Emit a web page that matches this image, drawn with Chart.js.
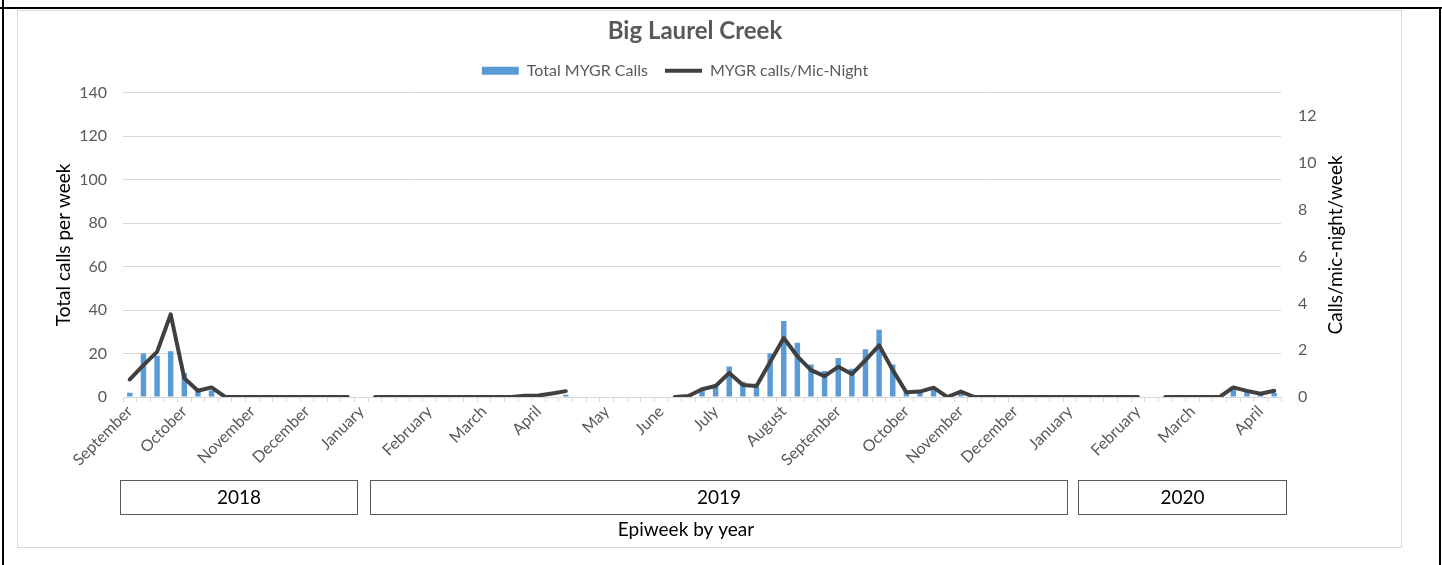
<!DOCTYPE html>
<html><head><meta charset="utf-8">
<script src="https://cdn.jsdelivr.net/npm/chart.js@4/dist/chart.umd.min.js"></script>
<style>
html,body{margin:0;padding:0;background:#fff;}
body{width:1442px;height:565px;position:relative;overflow:hidden;font-family:Lato,sans-serif;}
#frameTop{position:absolute;left:0;top:7px;width:1442px;height:2px;background:#000;}
#frameLeft{position:absolute;left:2px;top:0;width:2px;height:565px;background:#000;}
#frameRight{position:absolute;left:1439px;top:8px;width:2px;height:557px;background:#000;}
#chartBorder{position:absolute;left:17px;top:10px;width:1383px;height:536px;border:1px solid #d9d9d9;}
#wrap{position:absolute;left:0;top:0;width:1390px;height:565px;}
</style></head>
<body>
<div id="frameTop"></div><div id="frameLeft"></div><div id="frameRight"></div>
<div id="chartBorder"></div>
<div id="wrap"><canvas id="c" width="1390" height="565"></canvas></div>
<script>
// ---- data ----
const weekCount = 85; // epiweeks Sept 2018 .. Apr 2020
const monthTickIndex = [0,4,9,13,17,22,26,30,35,39,43,48,52,57,61,65,69,74,78,83];
const monthTickLabel = ['September','October','November','December','January','February','March','April','May','June','July','August','September','October','November','December','January','February','March','April'];
const years = ['2018','2019','2020'];

const totalCalls = [
  2,20,19,21,11,3,3,0,0,0,0,0,0,0,0,0,0,
  null,0,0,0,0,0,0,0,0,0,0,0,0,0,0,1,
  null,null,null,null,null,null,null,
  0,0,3,6,14,7,5,20,35,25,15,12,18,13,22,31,15,3,2,4,0,2,
  0,0,0,0,0,0,0,0,0,0,0,0,0,
  null,0,0,0,0,0,5,3,1,2
];
const callsPerMicNight = [
  0.75,1.36,1.93,3.53,0.8,0.27,0.41,0,0,0,0,0,0,0,0,0,0,
  null,0,0,0,0,0,0,0,0,0,0,0,0.05,0.06,0.15,0.25,
  null,null,null,null,null,null,null,
  0,0.04,0.33,0.47,1.03,0.51,0.47,1.5,2.52,1.74,1.15,0.89,1.29,0.98,1.57,2.21,1.15,0.2,0.23,0.4,0,0.23,
  0,0,0,0,0,0,0,0,0,0,0,0,0,
  null,0,0,0,0,0,0.41,0.26,0.14,0.27
];

// category labels: month name on the first epiweek of each month
const categories = [];
for (let i = 0; i < weekCount; i++) {
  const k = monthTickIndex.indexOf(i);
  categories.push(k >= 0 ? monthTickLabel[k] : '');
}

const FONT = 'Lato';
const GRID = '#d9d9d9';
const TXT = '#595959';

// small spacer between legend and plot area
const spacer = {
  id: 'spacer',
  beforeInit(chart) {
    Chart.layouts.addBox(chart, {
      position: 'top', weight: 0, fullSize: true, options: {},
      top: 0, left: 0, right: 0, bottom: 0, width: 0, height: 0,
      update(maxWidth) { this.width = maxWidth; this.height = 4; },
      isHorizontal() { return true; },
      draw() {}
    });
  },
  afterLayout(chart) {
    // legend sits slightly left of the title centre in the original
    if (chart.legend) { chart.legend.left -= 20; chart.legend.right -= 20; }
  }
};

const extras = {
  id: 'extras',
  afterDraw(chart) {
    const ctx = chart.ctx;
    const a = chart.chartArea;
    const xs = chart.scales.x;
    const cy = (a.top + a.bottom) / 2;
    ctx.save();
    ctx.fillStyle = '#000';
    ctx.font = '19px ' + FONT;
    ctx.textAlign = 'center';
    ctx.textBaseline = 'middle';
    ctx.save(); ctx.translate(64, cy); ctx.rotate(-Math.PI/2);
    ctx.fillText('Total calls per week', 0, 0); ctx.restore();
    ctx.save(); ctx.translate(1336, cy); ctx.rotate(-Math.PI/2);
    ctx.fillText('Calls/mic-night/week', 0, 0); ctx.restore();
    const spans = chart.options.plugins.extras.yearSpans;
    ctx.font = '19px ' + FONT;
    ctx.strokeStyle = '#595959';
    ctx.lineWidth = 1;
    years.forEach((y, i) => {
      const x1 = Math.round(xs.getPixelForValue(spans[i][0])) + 0.5;
      const x2 = Math.round(xs.getPixelForValue(spans[i][1])) + 0.5;
      ctx.strokeRect(x1, 480.5, x2 - x1, 34);
      ctx.fillText(y, (x1 + x2) / 2, 498);
    });
    ctx.fillText('Epiweek by year', 686, 530);
    ctx.restore();
  }
};

new Chart(document.getElementById('c'), {
  data: {
    labels: categories,
    datasets: [
      { type: 'bar', label: 'Total MYGR Calls', data: totalCalls, yAxisID: 'y',
        backgroundColor: '#5b9bd5', borderWidth: 0, barPercentage: 0.4, categoryPercentage: 1, order: 2 },
      { type: 'line', label: 'MYGR calls/Mic-Night', data: callsPerMicNight, yAxisID: 'y1',
        borderColor: '#404040', backgroundColor: '#404040', borderWidth: 4, pointRadius: 0,
        tension: 0, spanGaps: false, borderJoinStyle: 'round', borderCapStyle: 'round', order: 1 }
    ]
  },
  options: {
    responsive: false,
    animation: false,
    layout: { padding: 0 },
    plugins: {
      extras: { yearSpans: [[-0.7, 16.7], [17.6, 68.8], [69.6, 84.9]] },
      tooltip: { enabled: false },
      title: { display: true, text: 'Big Laurel Creek', color: TXT,
        font: { family: FONT, size: 24, weight: 'bold' }, padding: { top: 17, bottom: 0 } },
      legend: { position: 'top',
        labels: { font: { family: FONT, size: 16 }, color: TXT, usePointStyle: true,
          pointStyleWidth: 37, boxHeight: 8, padding: 17,
          generateLabels(chart) {
            return chart.data.datasets.map((ds, i) => ({
              text: ds.label, datasetIndex: i, hidden: false, fontColor: TXT,
              fillStyle: ds.type === 'line' ? ds.borderColor : ds.backgroundColor,
              strokeStyle: ds.type === 'line' ? ds.borderColor : ds.backgroundColor,
              lineWidth: ds.type === 'line' ? 4 : 0,
              pointStyle: ds.type === 'line' ? 'line' : 'rect'
            }));
          } } }
    },
    scales: {
      x: { type: 'category', offset: true,
        grid: { display: true, offset: true, drawOnChartArea: false, drawTicks: true, tickLength: 5, color: GRID },
        border: { color: GRID },
        ticks: { autoSkip: false, maxRotation: 45, minRotation: 45, color: TXT, padding: 0,
          font: { family: FONT, size: 16 } },
        afterFit(s) { s.height = 168; } },
      y: { position: 'left', min: 0, max: 140,
        ticks: { stepSize: 20, color: TXT, padding: 16, font: { family: FONT, size: 16 } },
        grid: { color: GRID, drawTicks: false }, border: { display: false },
        afterFit(s) { s.width = 123; } },
      y1: { position: 'right', min: 0, max: 13,
        ticks: { stepSize: 2, color: TXT, padding: 17, font: { family: FONT, size: 16 } },
        afterBuildTicks(s) { s.ticks = s.ticks.filter(t => t.value <= 12); },
        grid: { drawOnChartArea: false, drawTicks: false }, border: { display: false },
        afterFit(s) { s.width = 109; } }
    }
  },
  plugins: [spacer, extras]
});
</script>
</body></html>
